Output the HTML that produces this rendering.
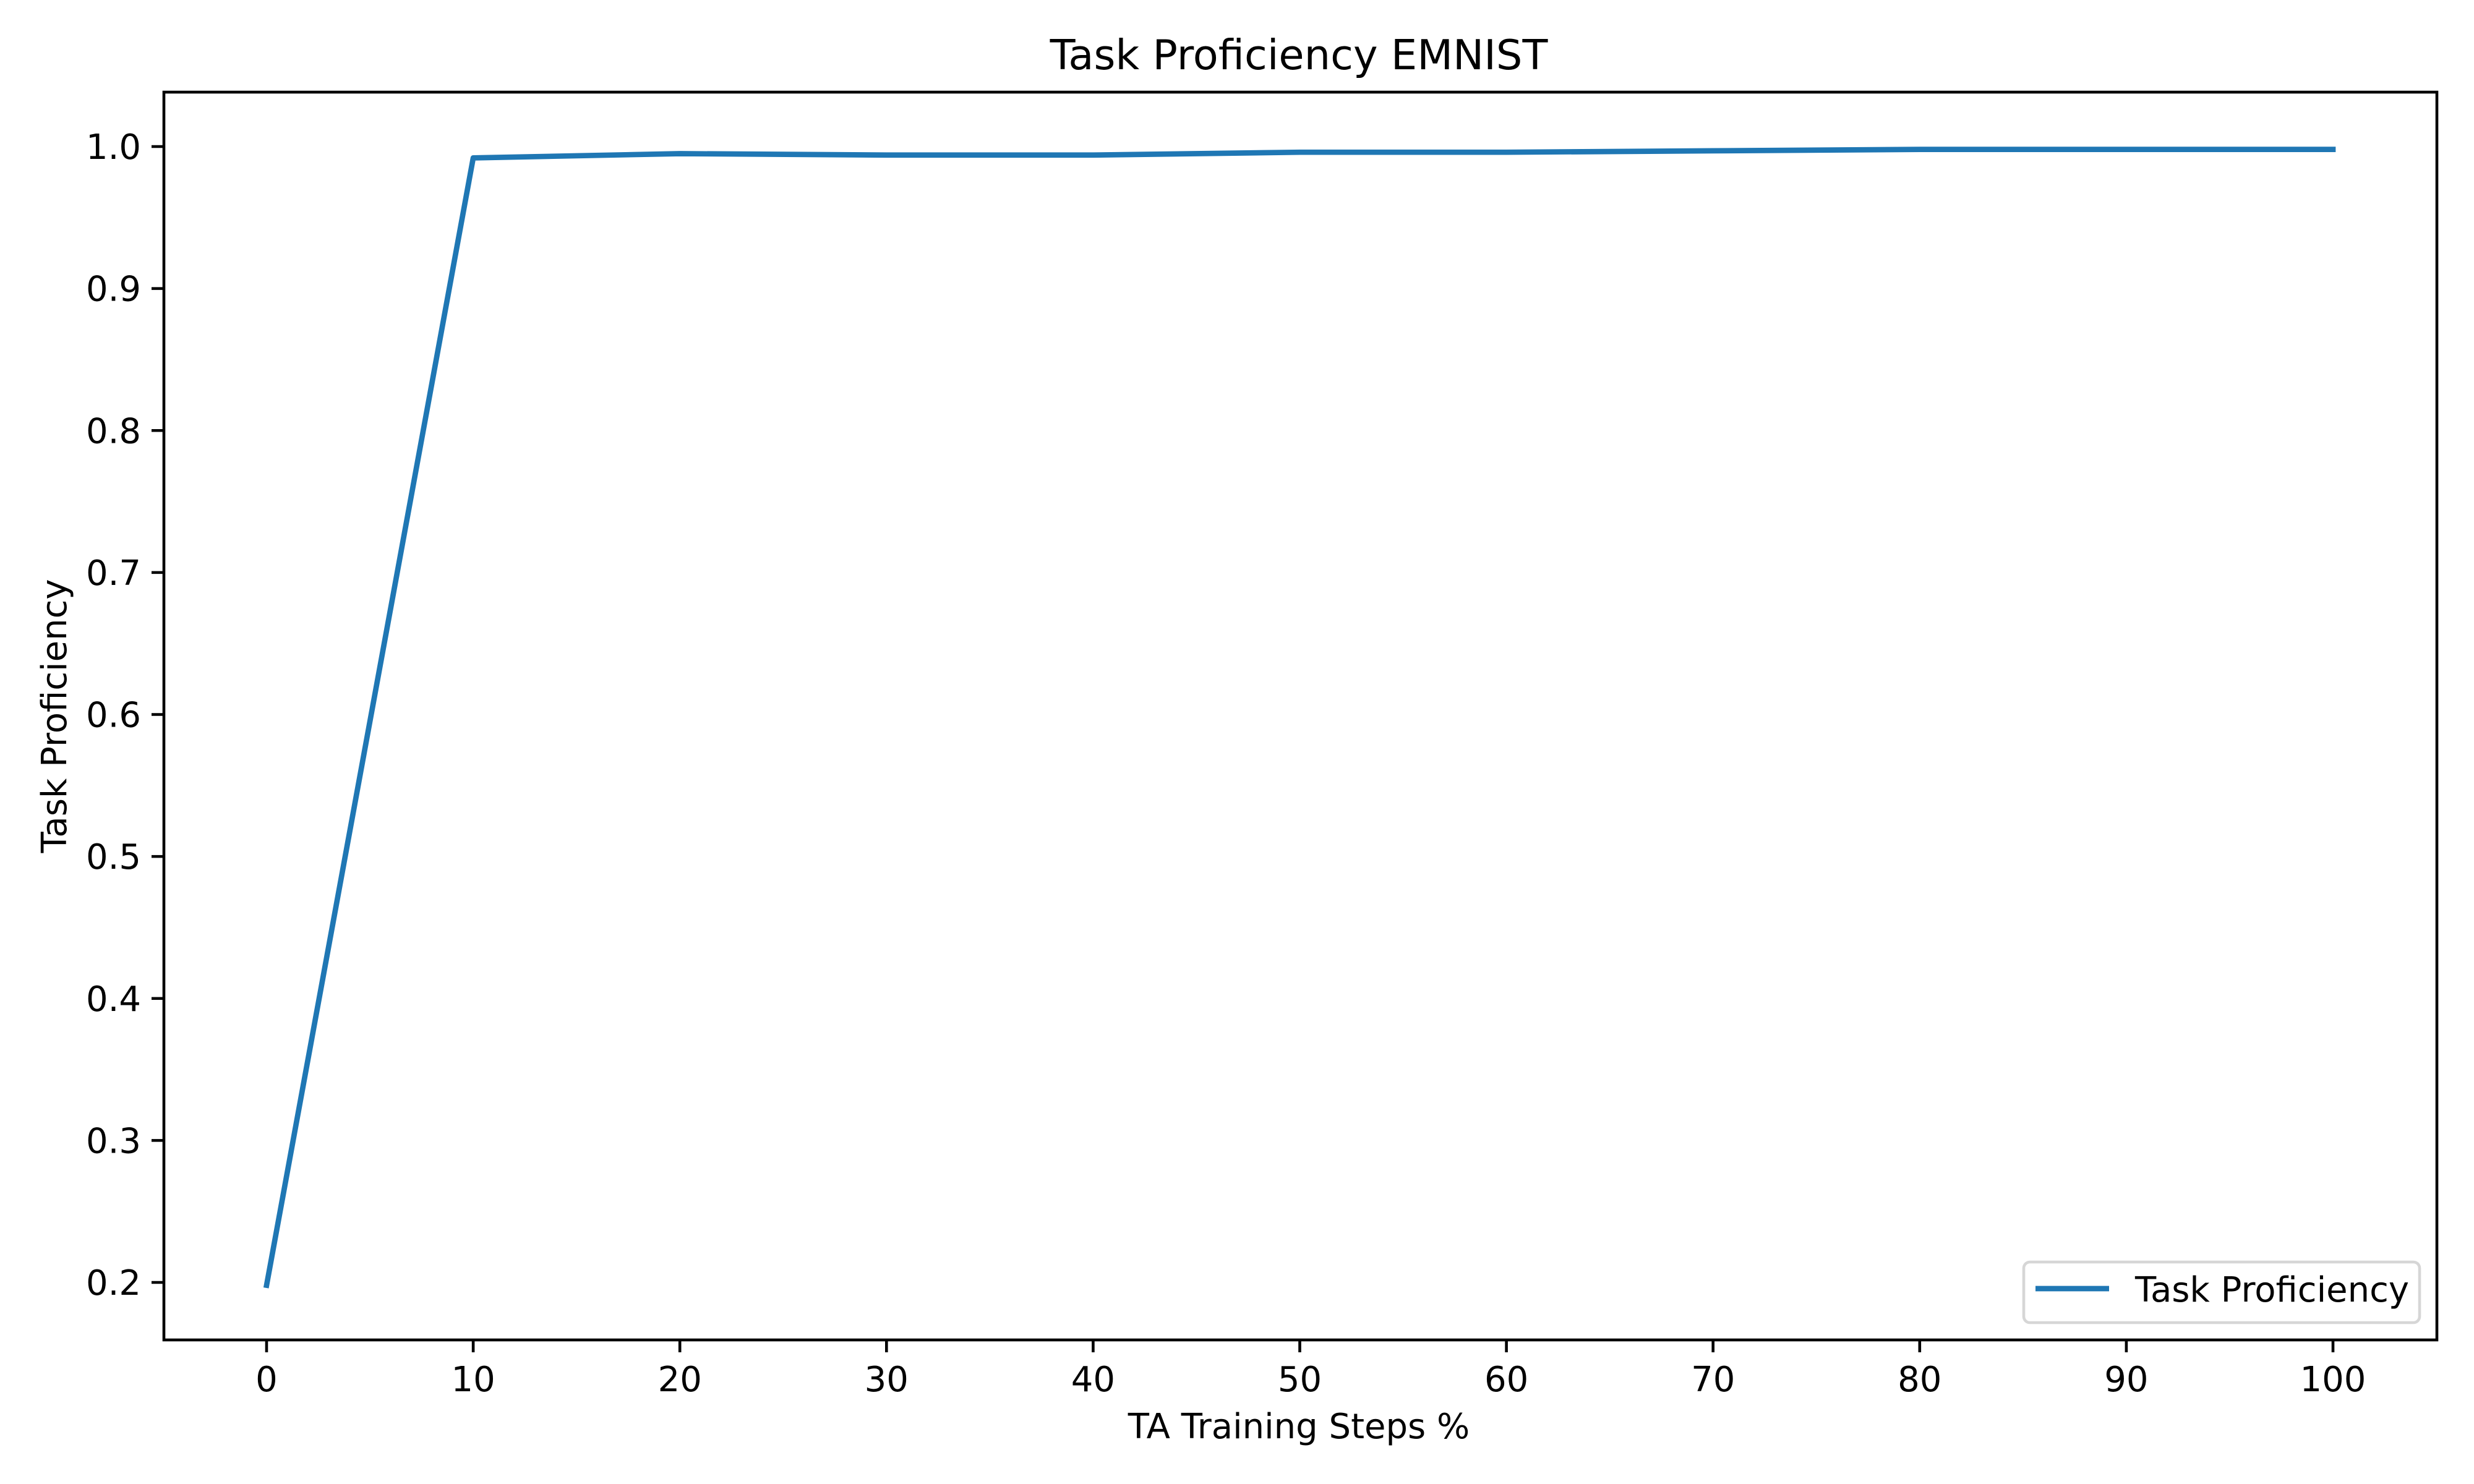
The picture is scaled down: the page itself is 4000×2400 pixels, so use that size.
<!DOCTYPE html>
<html><head><meta charset="utf-8"><style>
html,body{margin:0;padding:0;background:#fff;}
svg{display:block;font-family:"DejaVu Sans","Liberation Sans",sans-serif;}
</style></head><body>
<svg id="chart" width="4000" height="2400" viewBox="0 0 4000 2400">
<rect x="0" y="0" width="4000" height="2400" fill="#fff"/>
<text x="2100" y="112" font-size="67" text-anchor="middle">Task Proficiency EMNIST</text>
<g id="xticks"></g>
<g id="yticks"></g>
<g id="series"></g>
<rect x="265" y="149" width="3675" height="2018" fill="none" stroke="#000" stroke-width="4.6"/>
<text x="2100" y="2326" font-size="56" text-anchor="middle">TA Training Steps %</text>
<text x="0" y="0" font-size="56" text-anchor="middle" transform="translate(107,1158) rotate(-90)">Task Proficiency</text>
<g>
<rect x="3272" y="2041" width="640" height="98" rx="10" fill="#fff" stroke="#d6d6d6" stroke-width="4.6"/>
<line x1="3291" y1="2084" x2="3410" y2="2084" stroke="#1f77b4" stroke-width="8.7"/>
<text x="3452" y="2105" font-size="56">Task Proficiency</text>
</g>
</svg>
<script>
const xValues = [0,10,20,30,40,50,60,70,80,90,100];
const yValues = [0.198,0.992,0.995,0.994,0.994,0.996,0.996,0.997,0.998,0.998,0.998];
const xTickValues = [0,10,20,30,40,50,60,70,80,90,100];
const yTickValues = [0.2,0.3,0.4,0.5,0.6,0.7,0.8,0.9,1.0];
const yTickLabels = ["0.2","0.3","0.4","0.5","0.6","0.7","0.8","0.9","1.0"];

const NS = "http://www.w3.org/2000/svg";
function xs(v){ return 431 + (v - 0) * (3772 - 431) / 100; }
function ys(v){ return 2074 - (v - 0.2) * (2074 - 237) / 0.8; }
function mk(tag, attrs, parent){ const e = document.createElementNS(NS, tag); for (const k in attrs) e.setAttribute(k, attrs[k]); parent.appendChild(e); return e; }

const gx = document.getElementById('xticks');
xTickValues.forEach(v => {
  const t = mk('line', {x1: xs(v), x2: xs(v), y1: 2167, y2: 2187, stroke: '#000', 'stroke-width': 4.6}, gx);
  
  
  const l = mk('text', {x: xs(v), y: 2250, 'font-size': 56, 'text-anchor': 'middle'}, gx);
  l.textContent = String(v);
  
  
});
const gy = document.getElementById('yticks');
yTickValues.forEach((v, i) => {
  const t = mk('line', {x1: 245, x2: 265, y1: ys(v), y2: ys(v), stroke: '#000', 'stroke-width': 4.6}, gy);
  
  
  const l = mk('text', {x: 228, y: ys(v) + 20, 'font-size': 56, 'text-anchor': 'end'}, gy);
  l.textContent = yTickLabels[i];
  
  
});
const gs = document.getElementById('series');
const pts = xValues.map((x, i) => xs(x) + ',' + ys(yValues[i])).join(' ');
const pl = mk('polyline', {points: pts, fill: 'none', stroke: '#1f77b4', 'stroke-width': 8.7, 'stroke-linejoin': 'round', 'stroke-linecap': 'square'}, gs);


</script>
</body></html>
